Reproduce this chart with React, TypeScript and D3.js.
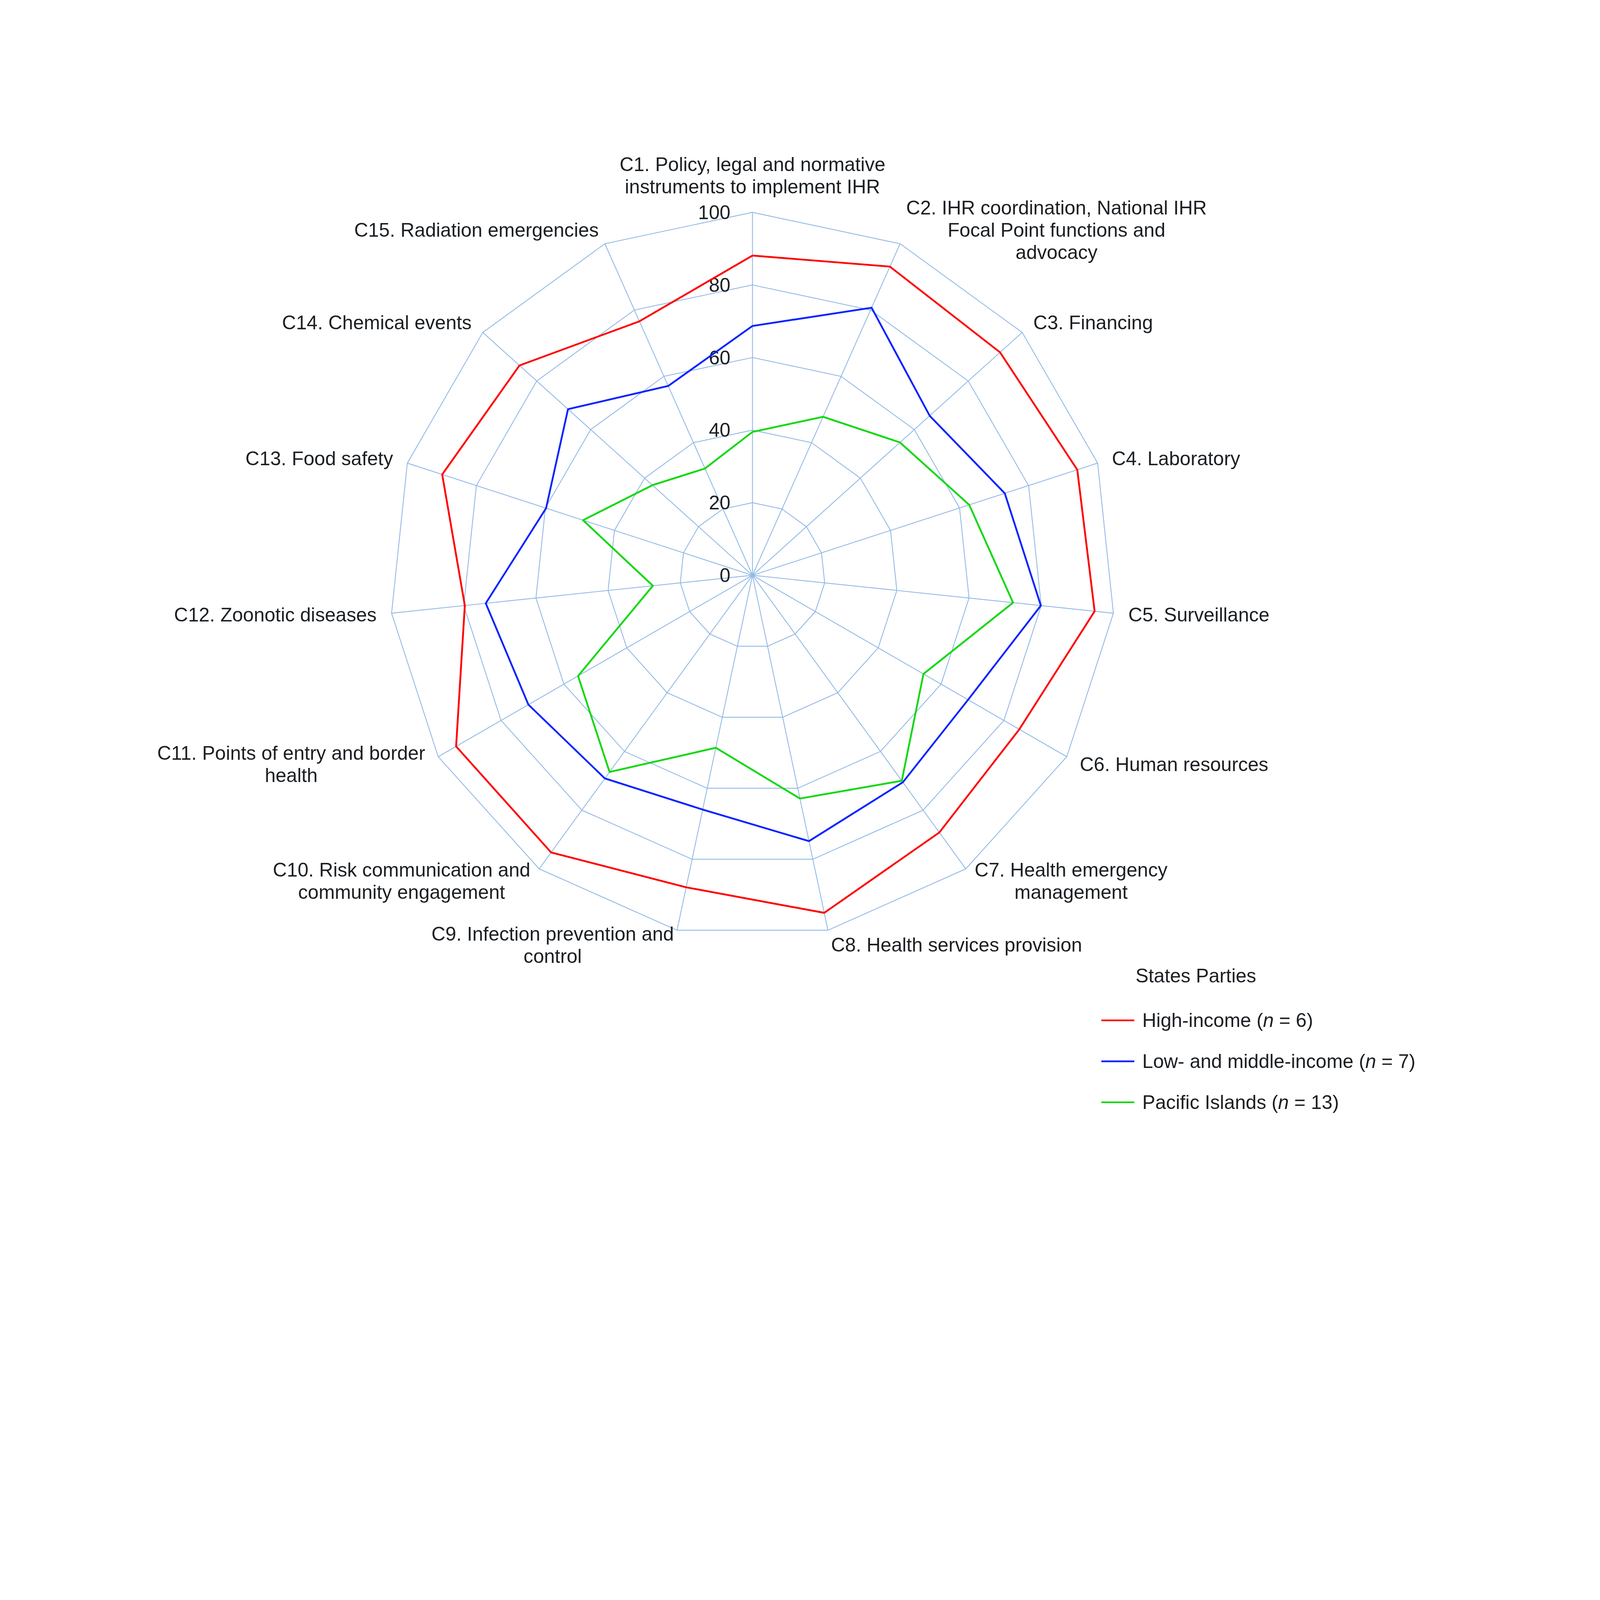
import { useEffect, useRef } from "react";
import * as d3 from "d3";

const WIDTH = 6600;
const HEIGHT = 5100;
const CENTER = { x: 3104, y: 2373 };
const RADIUS = 1497;
const FONT = "'Liberation Sans', Arial, Helvetica, sans-serif";
const FONT_SIZE = 80;
const LINE_HEIGHT = 92;
const LABEL_GAP = 62;
const TEXT_COLOR = "#1b1f23";
const GRID_COLOR = "#92b9e6";

// axis labels, one entry per line
const categories = [
  ["C1. Policy, legal and normative", "instruments to implement IHR"],
  ["C2. IHR coordination, National IHR", "Focal Point functions and", "advocacy"],
  ["C3. Financing"],
  ["C4. Laboratory"],
  ["C5. Surveillance"],
  ["C6. Human resources"],
  ["C7. Health emergency", "management"],
  ["C8. Health services provision"],
  ["C9. Infection prevention and", "control"],
  ["C10. Risk communication and", "community engagement"],
  ["C11. Points of entry and border", "health"],
  ["C12. Zoonotic diseases"],
  ["C13. Food safety"],
  ["C14. Chemical events"],
  ["C15. Radiation emergencies"],
];

const highIncome = [88.1, 93.1, 91.8, 94.1, 94.8, 84.9, 87.6, 95.1, 87.9, 94.4, 94.3, 79.7, 89.9, 86.4, 76.6];
const lowMiddleIncome = [68.7, 80.7, 65.7, 73.1, 79.9, 68.6, 70.5, 74.9, 66.0, 69.2, 71.3, 73.9, 59.8, 68.4, 57.1];
const pacificIslands = [39.5, 47.8, 54.7, 62.8, 72.2, 54.4, 70.0, 62.9, 48.6, 67.0, 55.5, 27.6, 49.1, 37.1, 32.2];

const seriesNames = ["High-income", "Low- and middle-income", "Pacific Islands"];
const seriesN = [6, 7, 13];
const seriesColors = ["#ff0000", "#0a24ff", "#13d813"];
const ticks = [0, 20, 40, 60, 80, 100];

const LEGEND = { titleX: 4684, titleY: 4053, lineX1: 4543, lineX2: 4679, textX: 4712, firstY: 4209, step: 169 };

const App = () => {
  const svgRef = useRef<SVGSVGElement | null>(null);

  useEffect(() => {
    document.body.style.margin = "0";
    document.body.style.overflow = "hidden";
    const svg = d3.select(svgRef.current);
    svg.selectAll("*").remove();

    const r = d3.scaleLinear().domain([0, 100]).range([0, RADIUS]);
    const n = categories.length;
    const angle = (i: number) => (i * 2 * Math.PI) / n;

    svg.append("rect").attr("width", WIDTH).attr("height", HEIGHT).attr("fill", "#ffffff");

    const g = svg.append("g").attr("transform", `translate(${CENTER.x},${CENTER.y})`);

    const ring = d3
      .lineRadial<number>()
      .angle((_, i) => angle(i))
      .radius((d) => r(d))
      .curve(d3.curveLinearClosed);

    // rings
    g.selectAll(".ring")
      .data(ticks.filter((t) => t > 0))
      .join("path")
      .attr("class", "ring")
      .attr("d", (t) => ring(categories.map(() => t)))
      .attr("fill", "none")
      .attr("stroke", GRID_COLOR)
      .attr("stroke-width", 3.5);

    // spokes
    g.selectAll(".spoke")
      .data(categories)
      .join("line")
      .attr("class", "spoke")
      .attr("x1", 0)
      .attr("y1", 0)
      .attr("x2", (_, i) => r(100) * Math.sin(angle(i)))
      .attr("y2", (_, i) => -r(100) * Math.cos(angle(i)))
      .attr("stroke", GRID_COLOR)
      .attr("stroke-width", 3.5);

    // tick labels
    g.selectAll(".tick")
      .data(ticks)
      .join("text")
      .attr("class", "tick")
      .attr("x", -91)
      .attr("y", (t) => -r(t) + 28)
      .attr("text-anchor", "end")
      .attr("font-family", FONT)
      .attr("font-size", FONT_SIZE)
      .attr("fill", TEXT_COLOR)
      .text((t) => t);

    // series
    const allSeries = [highIncome, lowMiddleIncome, pacificIslands];
    g.selectAll(".series")
      .data(allSeries)
      .join("path")
      .attr("class", "series")
      .attr("d", (d) => ring(d))
      .attr("fill", "none")
      .attr("stroke", (_, i) => seriesColors[i])
      .attr("stroke-width", 7.5)
      .attr("stroke-linejoin", "round");

    // category labels
    categories.forEach((lines, i) => {
      const a = angle(i);
      const dx = Math.sin(a);
      const dy = -Math.cos(a);
      const px = (r(100) + LABEL_GAP) * dx;
      const py = (r(100) + LABEL_GAP) * dy;

      const text = g
        .append("text")
        .attr("font-family", FONT)
        .attr("font-size", FONT_SIZE)
        .attr("fill", TEXT_COLOR)
        .attr("text-anchor", "middle");
      const spans = text
        .selectAll("tspan")
        .data(lines)
        .join("tspan")
        .text((d) => d);

      let w = 0;
      spans.each(function () {
        w = Math.max(w, (this as SVGTSpanElement).getComputedTextLength());
      });

      let cx = px;
      if (dx > 0.05) cx = px + w / 2;
      else if (dx < -0.05) cx = px - w / 2;

      let firstBaseline;
      if (Math.abs(dx) <= 0.05 && dy < 0) {
        firstBaseline = py - 17 - (lines.length - 1) * LINE_HEIGHT;
      } else {
        firstBaseline = py - ((lines.length - 1) * LINE_HEIGHT) / 2 + 28;
      }

      spans.attr("x", cx).attr("y", (_, k) => firstBaseline + k * LINE_HEIGHT);
    });

    // legend
    const legend = svg.append("g");
    legend
      .append("text")
      .attr("x", LEGEND.titleX)
      .attr("y", LEGEND.titleY)
      .attr("font-family", FONT)
      .attr("font-size", FONT_SIZE)
      .attr("fill", TEXT_COLOR)
      .text("States Parties");

    seriesNames.forEach((name, i) => {
      const y = LEGEND.firstY + i * LEGEND.step;
      legend
        .append("line")
        .attr("x1", LEGEND.lineX1)
        .attr("x2", LEGEND.lineX2)
        .attr("y1", y)
        .attr("y2", y)
        .attr("stroke", seriesColors[i])
        .attr("stroke-width", 7);
      const t = legend
        .append("text")
        .attr("x", LEGEND.textX)
        .attr("y", y + 28)
        .attr("font-family", FONT)
        .attr("font-size", FONT_SIZE)
        .attr("fill", TEXT_COLOR);
      t.append("tspan").text(`${name} (`);
      t.append("tspan").attr("font-style", "italic").text("n");
      t.append("tspan").text(` = ${seriesN[i]})`);
    });
  }, []);

  return (
    <svg
      ref={svgRef}
      viewBox={`0 0 ${WIDTH} ${HEIGHT}`}
      preserveAspectRatio="xMinYMin meet"
      style={{
        display: "block",
        width: "100vw",
        height: `calc(100vw * ${HEIGHT} / ${WIDTH})`,
      }}
    />
  );
};

export default App;
